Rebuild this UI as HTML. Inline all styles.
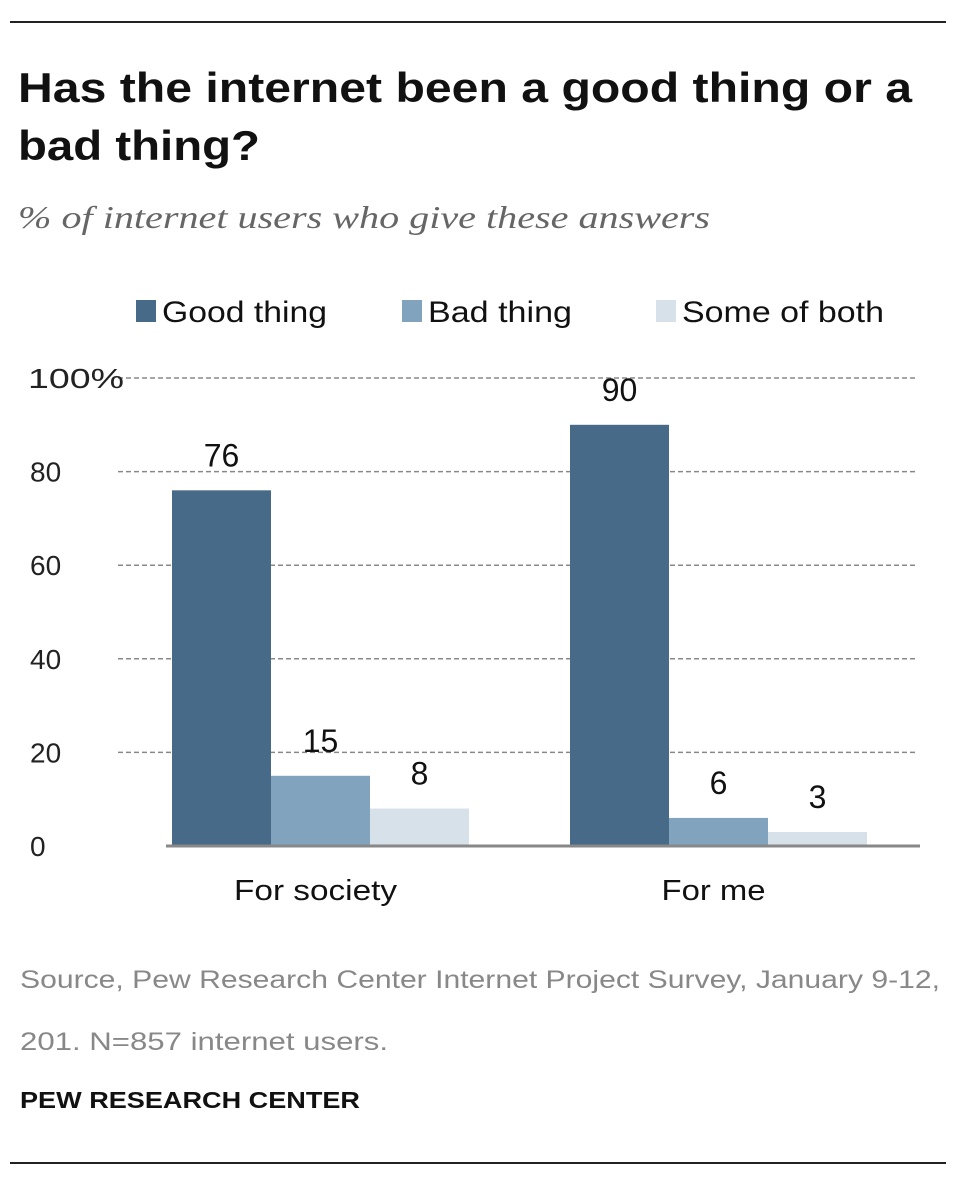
<!DOCTYPE html>
<html><head><meta charset="utf-8"><style>
body{margin:0;background:#fff;width:970px;height:1186px;overflow:hidden;font-family:"Liberation Sans",sans-serif}
</style></head><body>
<svg width="970" height="1186">
<line x1="10" y1="22" x2="946" y2="22" stroke="#222" stroke-width="2"/>
<text x="18" y="102" font-size="42" font-weight="bold" fill="#111" textLength="894" lengthAdjust="spacingAndGlyphs">Has the internet been a good thing or a</text>
<text x="18" y="160" font-size="42" font-weight="bold" fill="#111" textLength="242" lengthAdjust="spacingAndGlyphs">bad thing?</text>
<text x="18" y="228" font-size="32" font-style="italic" font-family="Liberation Serif,serif" fill="#666" textLength="692" lengthAdjust="spacingAndGlyphs">% of internet users who give these answers</text>
<g id="legend"></g>
<g id="grid"></g>
<g id="bars"></g>
<text x="20" y="988" font-size="25" fill="#888" textLength="920" lengthAdjust="spacingAndGlyphs">Source, Pew Research Center Internet Project Survey, January 9-12,</text>
<text x="20" y="1050" font-size="25" fill="#888" textLength="368" lengthAdjust="spacingAndGlyphs">201. N=857 internet users.</text>
<text x="20" y="1108" font-size="23" font-weight="bold" fill="#111" textLength="340" lengthAdjust="spacingAndGlyphs">PEW RESEARCH CENTER</text>
<line x1="10" y1="1163" x2="946" y2="1163" stroke="#222" stroke-width="2"/>
</svg>
<script>
const categories=["For society","For me"];
const seriesNames=["Good thing","Bad thing","Some of both"];
const goodVals=[76,90];
const badVals=[15,6];
const bothVals=[8,3];
const ticks=[0,20,40,60,80,100];
const colors=["#466a88","#82a3bd","#d6e1ea"];
const NS="http://www.w3.org/2000/svg";
const y0=846,y100=378;
const yScale=v=>y0-(y0-y100)*v/100;
const groupX=[172,570],barW=99;
function mk(tag,attrs,parent,txt){const e=document.createElementNS(NS,tag);for(const k in attrs)e.setAttribute(k,attrs[k]);if(txt!==undefined)e.textContent=txt;parent.appendChild(e);return e;}
const grid=document.getElementById('grid');
ticks.forEach(t=>{
  const y=yScale(t);
  if(t>0){const l=mk('line',{x1:118,y1:y,x2:918,y2:y,stroke:'#888','stroke-width':1.5,'stroke-dasharray':'5,3'},grid);
  
  }
  const attrs={x:t===100?28:30,y:y+10,'font-size':28,fill:'#222'};
  if(t===100){attrs.textLength=96;attrs.lengthAdjust='spacingAndGlyphs';}
  const tx=mk('text',attrs,grid,t===100?'100%':String(t));
  
  
});
const bars=document.getElementById('bars');
const series=[goodVals,badVals,bothVals];
const catW=[163,104];
categories.forEach((c,i)=>{
  series.forEach((vals,s)=>{
    const x=groupX[i]+s*barW,y=yScale(vals[i]);
    const r=mk('rect',{x:x,y:y,width:barW,height:y0-y,fill:colors[s]},bars);
    
    
    const lb=mk('text',{x:x+barW/2,y:y-24,'font-size':32,'text-anchor':'middle',fill:'#111'},bars,String(vals[i]));
    
    
  });
  const cl=mk('text',{x:groupX[i]+barW*1.45,y:900,'font-size':29,'text-anchor':'middle',fill:'#111',textLength:catW[i],lengthAdjust:'spacingAndGlyphs'},bars,c);
  
  
});
const base=mk('line',{x1:166,y1:y0,x2:920,y2:y0,stroke:'#888','stroke-width':3},bars);


const legend=document.getElementById('legend');
const legX=[136,402,656];
const legW=[165,144,202];
seriesNames.forEach((n,s)=>{
  const r=mk('rect',{x:legX[s],y:300,width:20,height:22,fill:colors[s]},legend);
  
  
  const t=mk('text',{x:legX[s]+26,y:322,'font-size':30,fill:'#111',textLength:legW[s],lengthAdjust:'spacingAndGlyphs'},legend,n);
  
  
});
</script>
</body></html>
